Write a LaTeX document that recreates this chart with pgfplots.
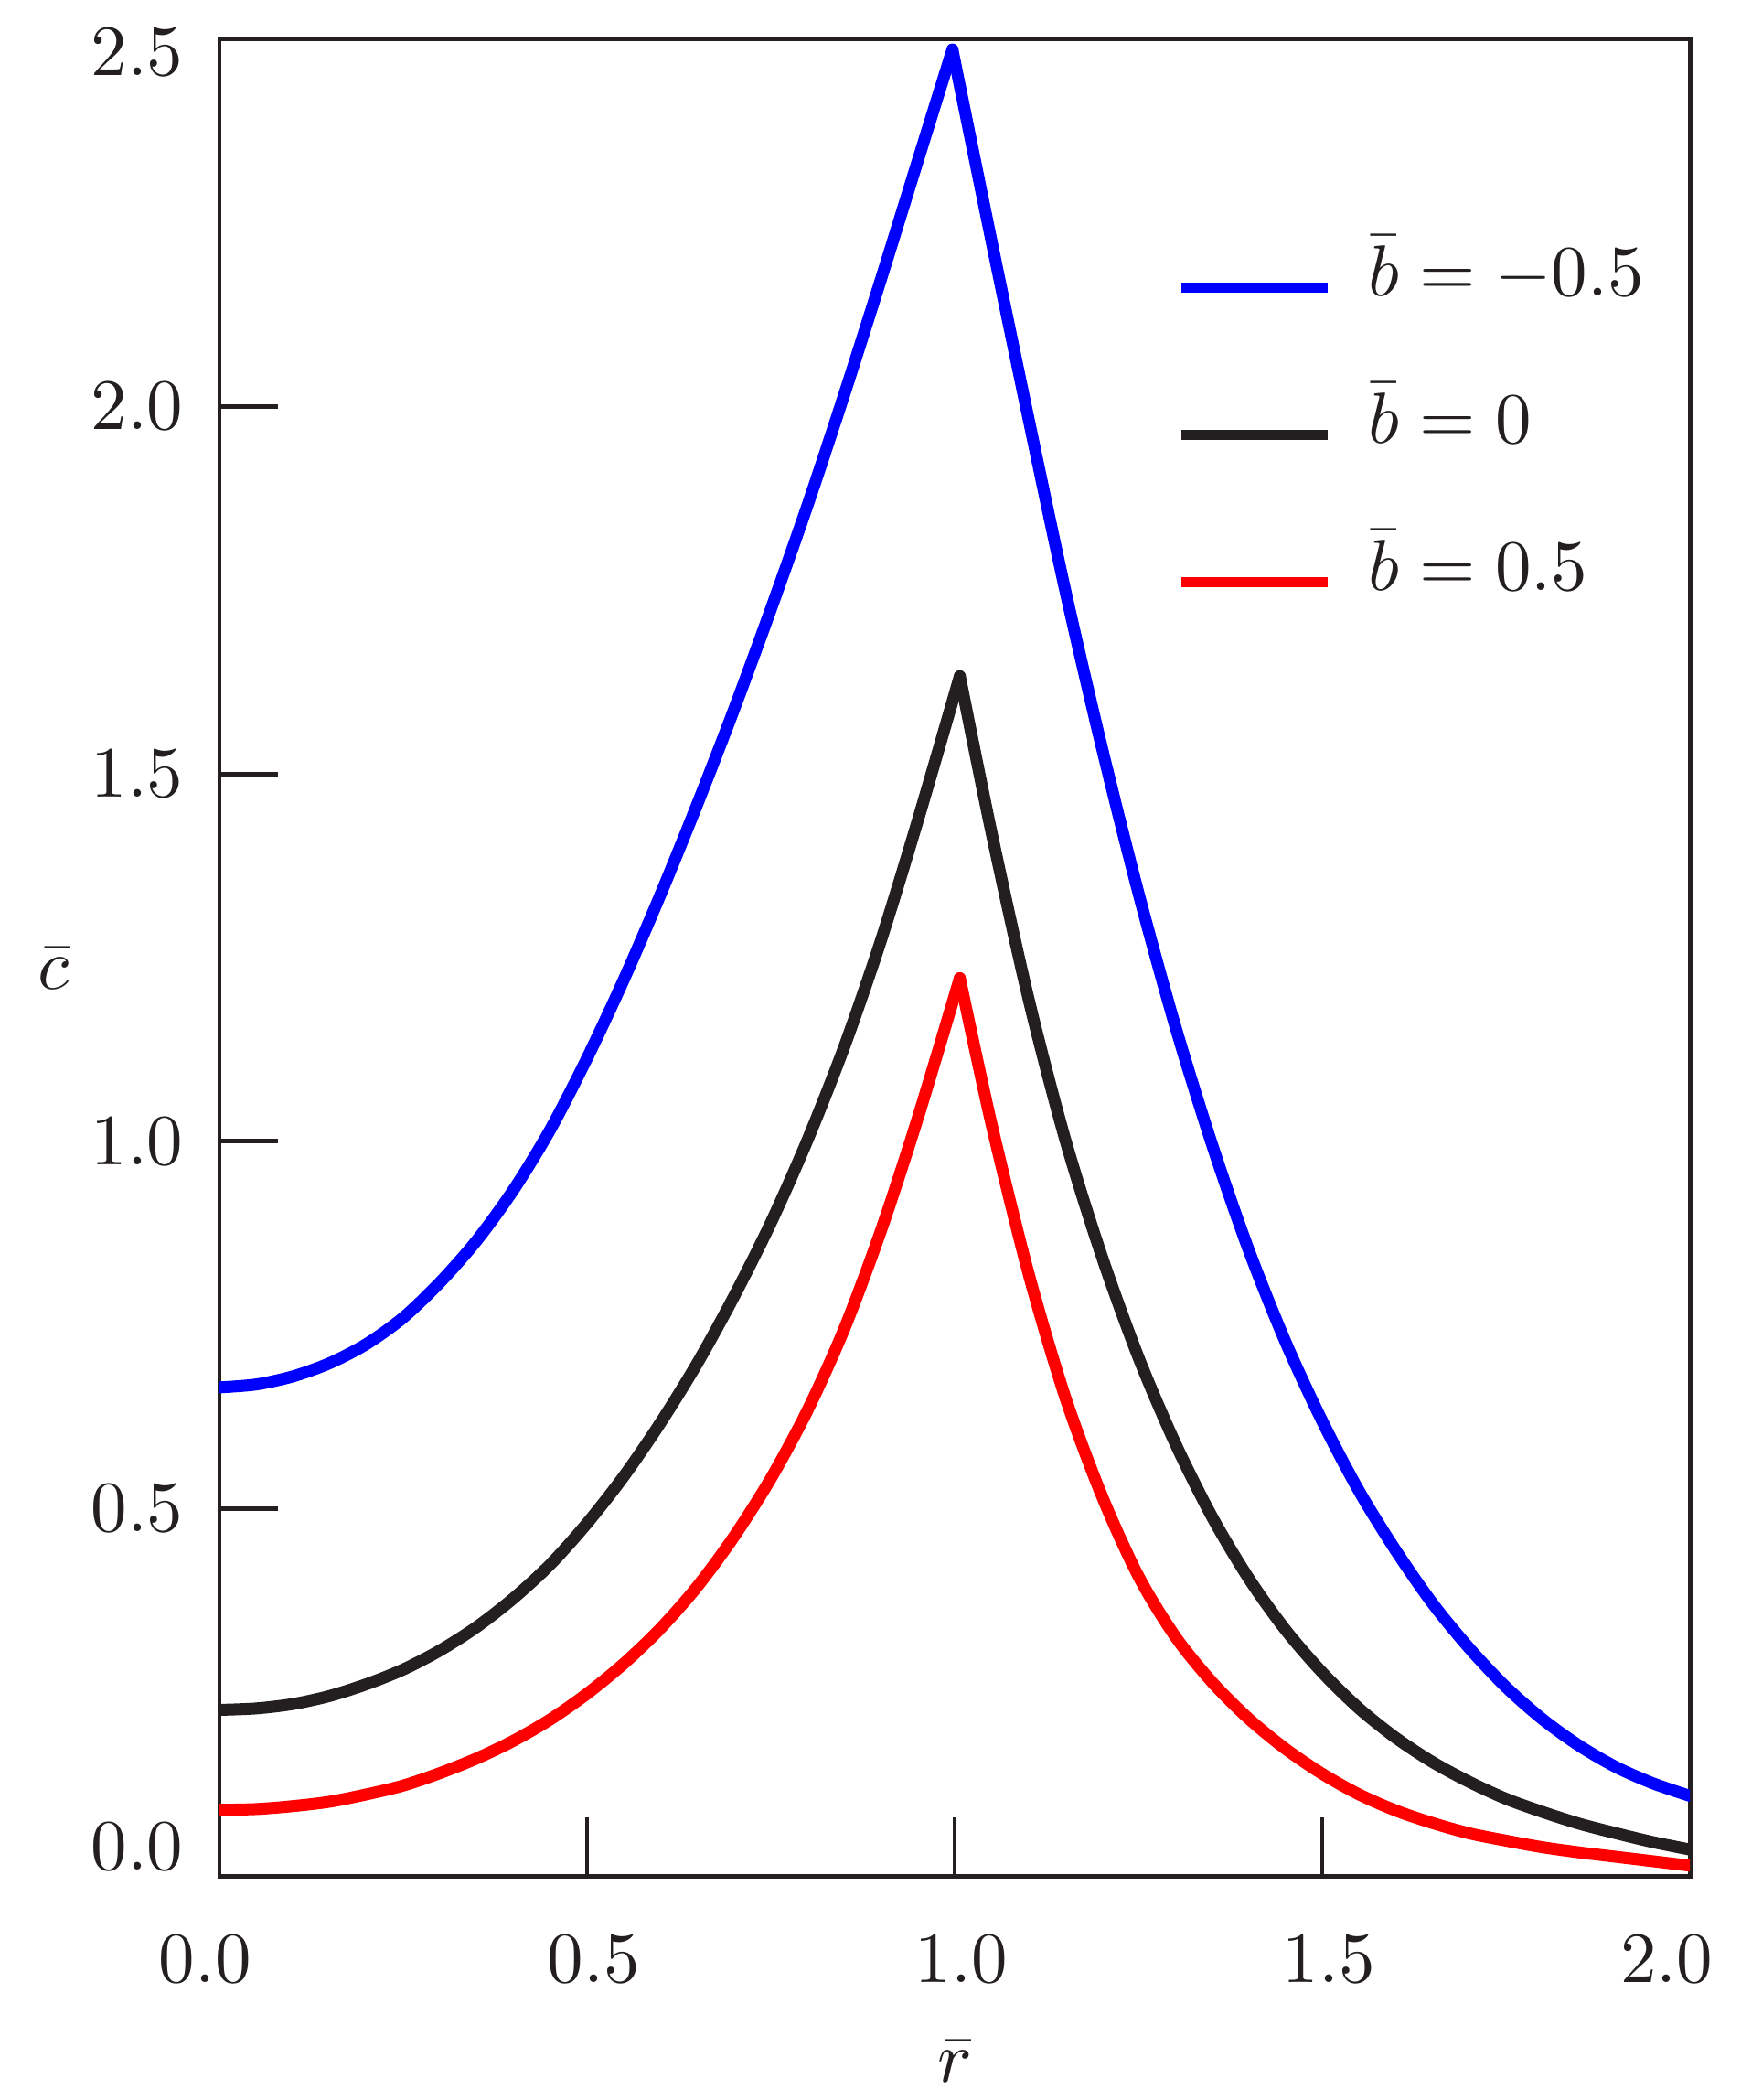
\documentclass[border=0pt]{standalone}
\usepackage{pgfplots}
\usepackage{pgfplotstable}
\pgfplotsset{compat=1.18}
\definecolor{frame}{RGB}{35,31,32}
\definecolor{pblue}{RGB}{0,0,255}
\definecolor{pred}{RGB}{255,0,0}

% b = -0.5 : branch r <= 1 and branch r >= 1
\pgfplotstableread{
r c
0.00 0.665
0.05 0.669
0.10 0.680
0.15 0.698
0.20 0.724
0.25 0.760
0.30 0.808
0.35 0.865
0.40 0.934
0.45 1.016
0.50 1.113
0.55 1.220
0.60 1.336
0.65 1.459
0.70 1.588
0.75 1.724
0.80 1.866
0.85 2.017
0.90 2.174
0.95 2.335
0.997 2.486
}\blueUp
\pgfplotstableread{
r c
0.997 2.486
1.050 2.226
1.100 1.986
1.150 1.752
1.200 1.537
1.250 1.338
1.300 1.157
1.350 0.996
1.400 0.852
1.450 0.727
1.500 0.619
1.550 0.524
1.600 0.443
1.650 0.371
1.700 0.310
1.750 0.257
1.800 0.213
1.850 0.177
1.900 0.148
1.950 0.126
2.000 0.109
}\blueDown

% b = 0
\pgfplotstableread{
r c
0.00 0.226
0.05 0.228
0.10 0.234
0.15 0.245
0.20 0.261
0.25 0.281
0.30 0.307
0.35 0.339
0.40 0.378
0.45 0.424
0.50 0.480
0.55 0.544
0.60 0.617
0.65 0.698
0.70 0.789
0.75 0.889
0.80 1.002
0.85 1.129
0.90 1.274
0.95 1.437
1.007 1.633
}\blackUp
\pgfplotstableread{
r c
1.007 1.633
1.050 1.421
1.100 1.196
1.150 1.004
1.200 0.844
1.250 0.706
1.300 0.589
1.350 0.489
1.400 0.405
1.450 0.335
1.500 0.277
1.550 0.228
1.600 0.188
1.650 0.155
1.700 0.128
1.750 0.105
1.800 0.087
1.850 0.071
1.900 0.058
1.950 0.046
2.000 0.036
}\blackDown

% b = 0.5
\pgfplotstableread{
r c
0.00 0.090
0.05 0.091
0.10 0.095
0.15 0.101
0.20 0.111
0.25 0.123
0.30 0.140
0.35 0.160
0.40 0.184
0.45 0.213
0.50 0.248
0.55 0.289
0.60 0.337
0.65 0.394
0.70 0.462
0.75 0.541
0.80 0.634
0.85 0.745
0.90 0.879
0.95 1.032
1.007 1.222
}\redUp
\pgfplotstableread{
r c
1.007 1.222
1.050 1.024
1.100 0.822
1.150 0.653
1.200 0.518
1.250 0.408
1.300 0.326
1.350 0.264
1.400 0.214
1.450 0.173
1.500 0.139
1.550 0.111
1.600 0.089
1.650 0.072
1.700 0.058
1.750 0.048
1.800 0.039
1.850 0.032
1.900 0.026
1.950 0.020
2.000 0.014
}\redDown

\begin{document}
\begin{tikzpicture}
\begin{axis}[
  scale only axis,
  width=203.54pt, height=254.18pt,
  xmin=0, xmax=2, ymin=0, ymax=2.5,
  axis line style={line width=0.63pt, draw=frame},
  tick align=inside,
  xtick pos=bottom, ytick pos=left,
  major tick length=8.1pt,
  tick style={line width=0.6pt, draw=frame},
  xtick={0,0.5,1,1.5,2},
  ytick={0,0.5,1,1.5,2,2.5},
  xticklabels={{0.0\kern5.8pt},{0.5},{1.0},{1.5},{2.0\kern8.2pt}},
  yticklabels={{\raisebox{4.05pt}[\height][\depth]{0.0}},{0.5},{1.0},{1.5},{2.0},{\raisebox{-1.84pt}[\height][\depth]{2.5}}},
  xticklabel style={anchor=north, inner sep=0pt, yshift=-7.85pt, xshift=0.9pt, text=frame},
  yticklabel style={anchor=east, inner sep=0pt, xshift=-4.8pt, text=frame},
  every axis x label/.style={at={(rel axis cs:0.5,0)}, anchor=base, yshift=-28.6pt, text=frame},
  every axis y label/.style={at={(rel axis cs:0,0.4826)}, anchor=base, xshift=-22.98pt, text=frame},
  xlabel={$\bar{r}$},
  ylabel={$\bar{c}$},
  legend style={draw=none, fill=none, inner sep=0pt, outer sep=0pt,
    at={(axis cs:1.301,2.2197)}, anchor=north west,
    row sep=13.38pt, column sep=4.9pt,
    cells={anchor=base west},
    nodes={inner sep=0pt, text height=7pt, text depth=0pt, text=frame}},
  legend image code/.code={\draw[#1, line width=1.4pt, line cap=butt] (0pt,1.07pt) -- (20.3pt,1.07pt);},
  every axis plot/.append style={line width=1.65pt, line cap=round, line join=round, smooth, tension=0.5},
]
\addplot[pblue] table[x=r, y=c] {\blueUp};
\addlegendentry{$\bar{b} = -0.5$}
\addplot[frame] table[x=r, y=c] {\blackUp};
\addlegendentry{$\bar{b} = 0$}
\addplot[pred] table[x=r, y=c] {\redUp};
\addlegendentry{$\bar{b} = 0.5$}
\addplot[pblue, forget plot] table[x=r, y=c] {\blueDown};
\addplot[frame, forget plot] table[x=r, y=c] {\blackDown};
\addplot[pred, forget plot] table[x=r, y=c] {\redDown};
\coordinate (sw) at (rel axis cs:0,0);
\end{axis}
\pgfresetboundingbox
\path (sw) ++(-30.38pt,-31.01pt) rectangle ++(240.89pt,290.63pt);
\end{tikzpicture}
\end{document}
